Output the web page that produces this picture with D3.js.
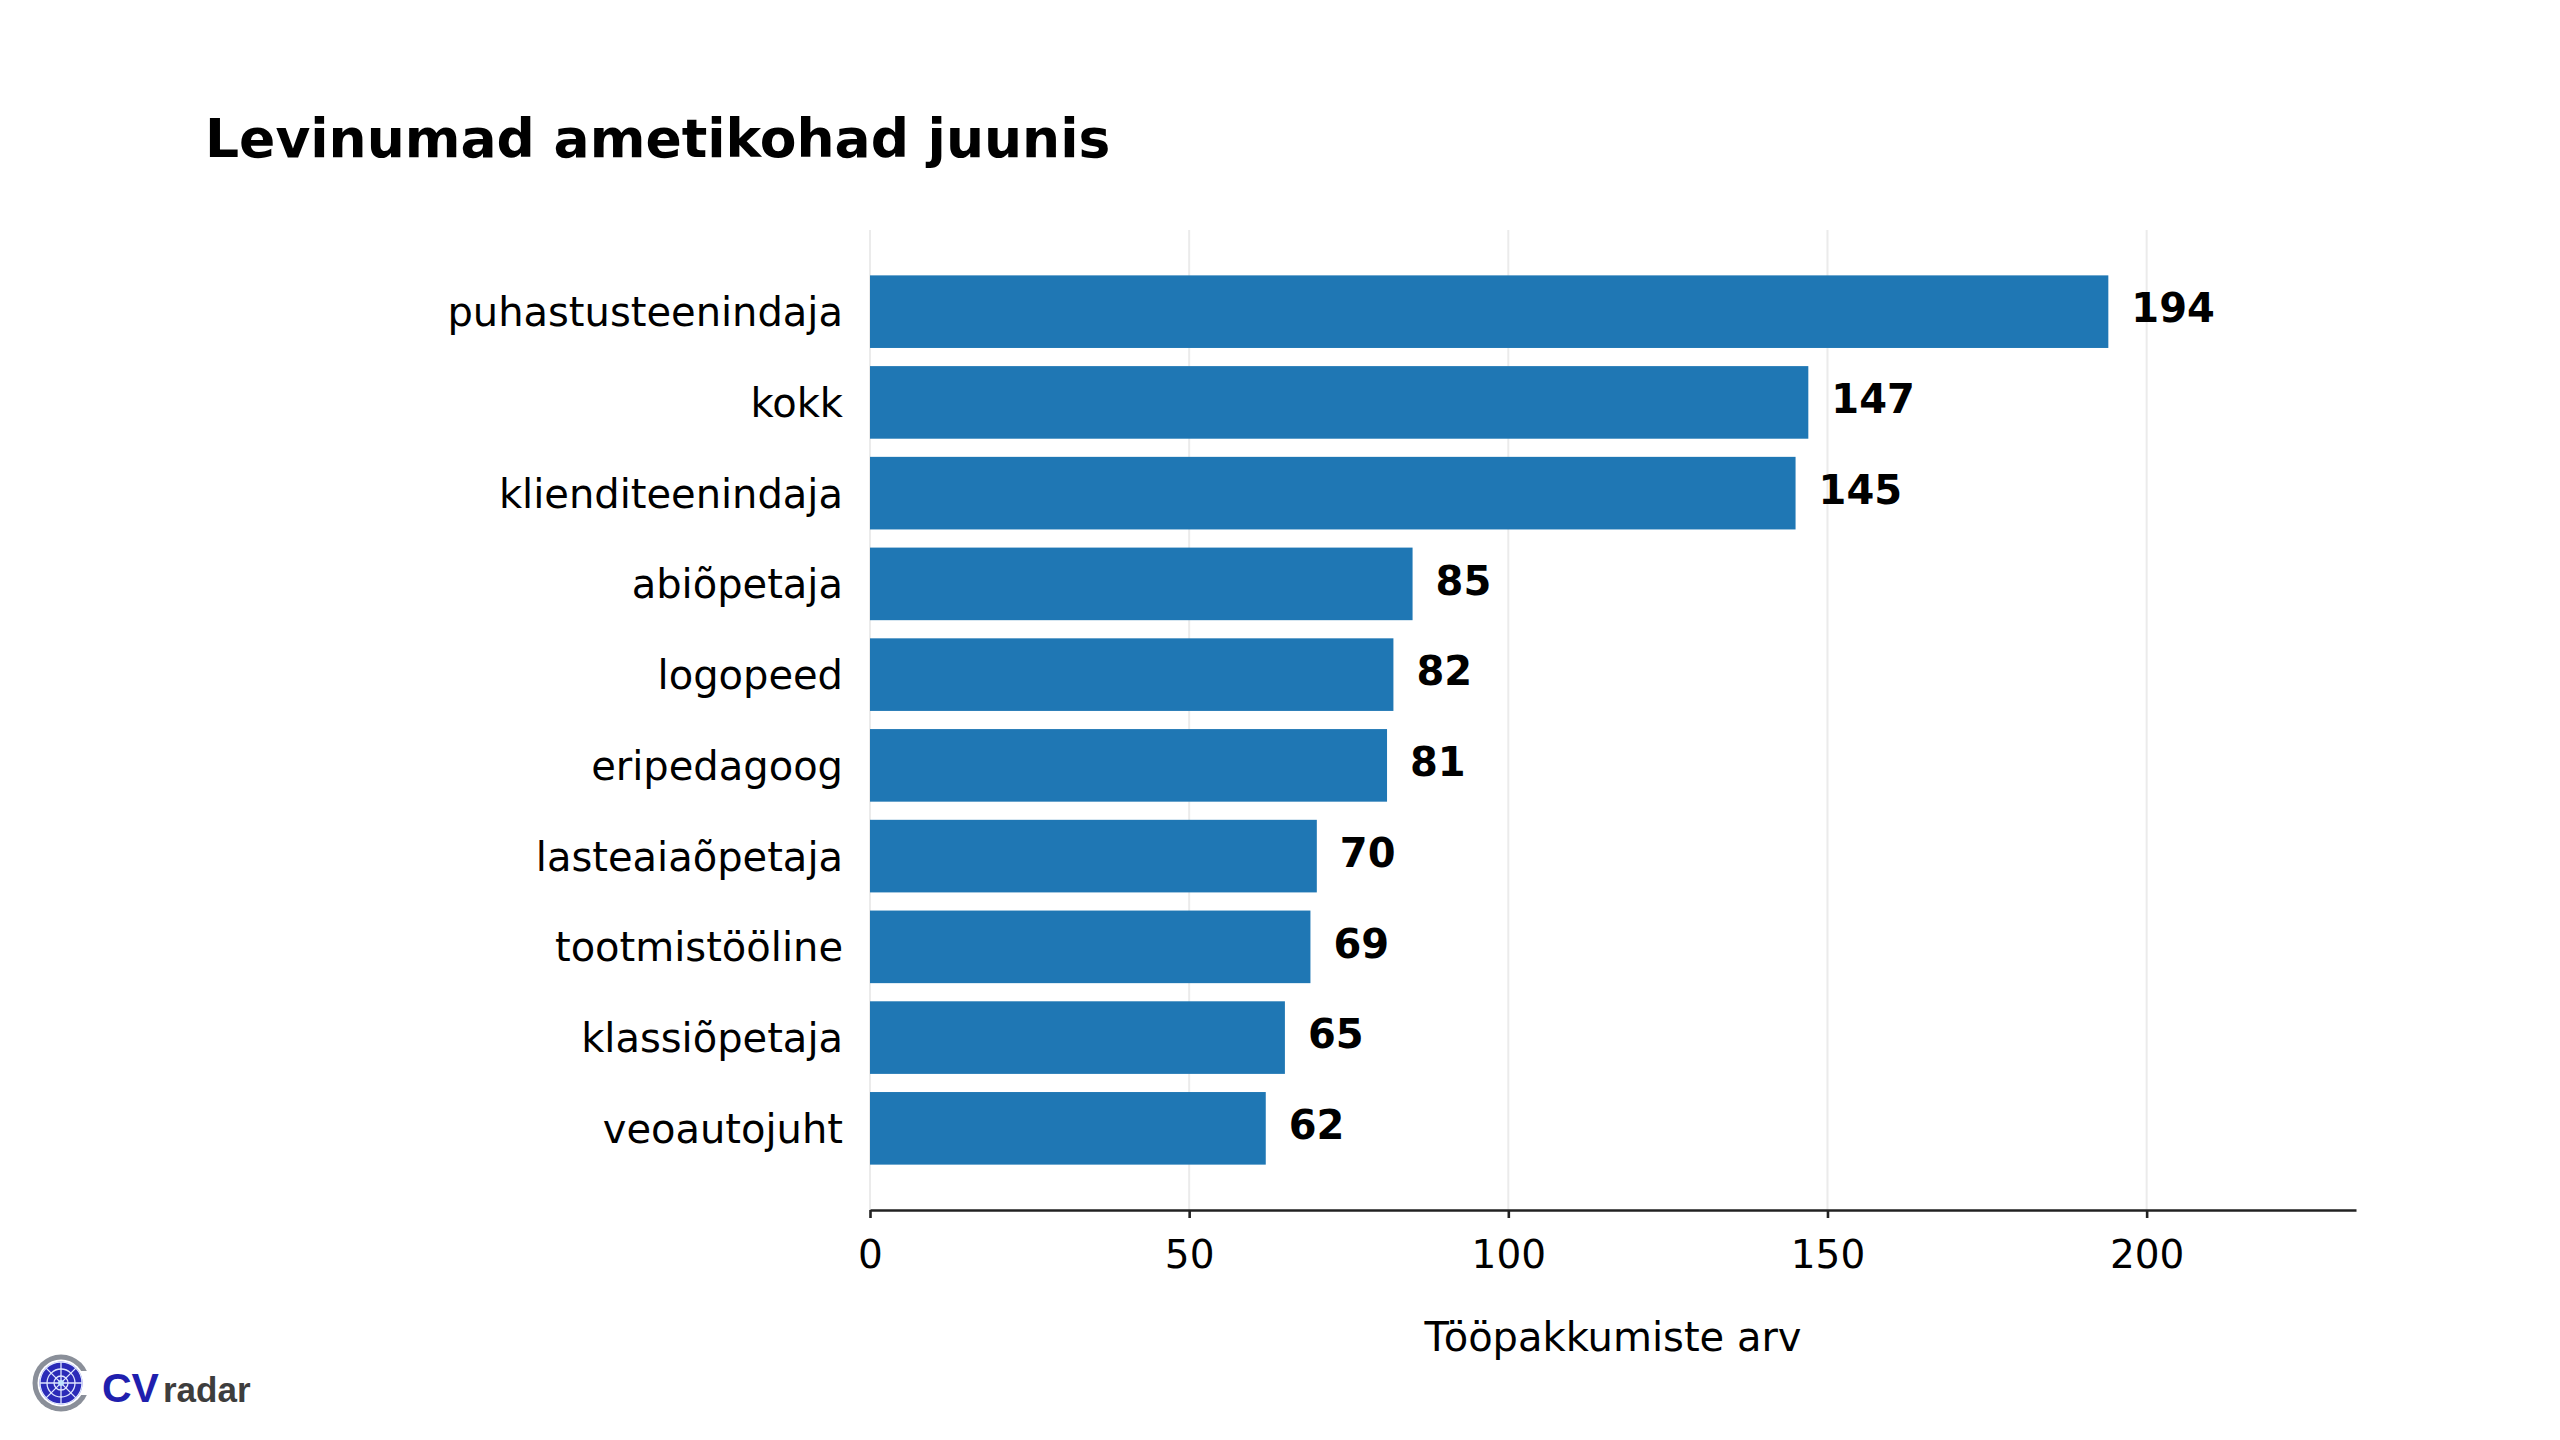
<!DOCTYPE html>
<html>
<head>
<meta charset="utf-8">
<script src="https://cdn.jsdelivr.net/npm/d3@7"></script>
<style>
  html, body { margin: 0; padding: 0; background: #ffffff; }
  svg { display: block; }
</style>
</head>
<body>
<div id="chart"></div>
<script>
//
// Chart data
//
const categories = ['puhastusteenindaja', 'kokk', 'klienditeenindaja', 'abiõpetaja', 'logopeed',
  'eripedagoog', 'lasteaiaõpetaja', 'tootmistööline', 'klassiõpetaja', 'veoautojuht']
const values = [194, 147, 145, 85, 82, 81, 70, 69, 65, 62]
const xTicks = [0, 50, 100, 150, 200]
const titleText = 'Levinumad ametikohad juunis'
const xLabelText = 'Tööpakkumiste arv'

const width = 2560
const height = 1440
const plot = { left: 870, right: 2356, top: 230, bottom: 1210 }
const fontFamily = '"DejaVu Sans", Verdana, sans-serif'
const barColour = '#1f77b4'

const svg = d3.select('#chart').append('svg')
  .attr('width', width)
  .attr('height', height)
  .attr('viewBox', `0 0 ${width} ${height}`)

svg.append('rect').attr('width', width).attr('height', height).attr('fill', '#ffffff')

//
// Scales - x domain padded by 20% over the largest value
//
const x = d3.scaleLinear()
  .domain([0, d3.max(values) * 1.2])
  .range([plot.left, plot.right])

const y = d3.scaleBand()
  .domain(categories)
  .range([plot.top, plot.bottom])
  .paddingInner(0.2)
  .paddingOuter(0.5)

// vertical grid lines
svg.append('g')
  .selectAll('line')
  .data(xTicks)
  .enter()
  .append('line')
    .attr('x1', d => x(d))
    .attr('x2', d => x(d))
    .attr('y1', plot.top)
    .attr('y2', plot.bottom)
    .attr('stroke', '#ebebeb')
    .attr('stroke-width', 2)

// bars
svg.append('g')
  .selectAll('rect')
  .data(categories)
  .enter()
  .append('rect')
    .attr('x', x(0))
    .attr('y', d => y(d))
    .attr('width', (d, i) => x(values[i]) - x(0))
    .attr('height', y.bandwidth())
    .attr('fill', barColour)

// value labels
svg.append('g')
  .selectAll('text')
  .data(categories)
  .enter()
  .append('text')
    .attr('x', (d, i) => x(values[i]) + 23)
    .attr('y', d => y(d) + y.bandwidth() / 2)
    .attr('dy', '0.27em')
    .attr('font-family', fontFamily)
    .attr('font-weight', 'bold')
    .attr('font-size', 40)
    .attr('fill', '#000')
    .text((d, i) => values[i])

// x axis
const xAxis = svg.append('g')
  .attr('transform', `translate(0,${plot.bottom})`)
  .call(d3.axisBottom(x).tickValues(xTicks).tickSize(8).tickPadding(22).tickSizeOuter(0))
xAxis.select('.domain').attr('stroke', '#222').attr('stroke-width', 2.6)
xAxis.selectAll('.tick line').attr('stroke', '#222').attr('stroke-width', 2.6)
xAxis.selectAll('.tick text')
  .attr('font-family', fontFamily)
  .attr('font-size', 39)
  .attr('fill', '#000')

// y axis (labels only)
const yAxis = svg.append('g')
  .attr('transform', `translate(${plot.left},0)`)
  .call(d3.axisLeft(y).tickSize(0).tickPadding(27))
yAxis.select('.domain').remove()
yAxis.selectAll('.tick text')
  .attr('dy', '0.36em')
  .attr('font-family', fontFamily)
  .attr('font-size', 40)
  .attr('fill', '#000')

// axis title
svg.append('text')
  .attr('x', (plot.left + plot.right) / 2)
  .attr('y', 1351)
  .attr('text-anchor', 'middle')
  .attr('font-family', fontFamily)
  .attr('font-size', 40)
  .attr('fill', '#000')
  .text(xLabelText)

// chart title
svg.append('text')
  .attr('x', 205)
  .attr('y', 157)
  .attr('font-family', fontFamily)
  .attr('font-weight', 'bold')
  .attr('font-size', 53.5)
  .attr('fill', '#000')
  .text(titleText)

//
// CVradar logo
//
const logo = svg.append('g').attr('transform', 'translate(61,1383)')
logo.append('circle').attr('r', 28.5).attr('fill', '#8a8f99')
logo.append('circle').attr('r', 23.5).attr('fill', '#ffffff')
logo.append('rect').attr('x', 8).attr('y', -12).attr('width', 24).attr('height', 24).attr('fill', '#ffffff')
logo.append('circle').attr('r', 21.5).attr('fill', '#2b2bb8')
const rings = [7, 14, 21]
logo.selectAll('.ring')
  .data(rings)
  .enter()
  .append('circle')
    .attr('r', d => d)
    .attr('fill', 'none')
    .attr('stroke', '#dfe6ff')
    .attr('stroke-width', 1.3)
const spokes = d3.range(0, 180, 45)
logo.selectAll('.spoke')
  .data(spokes)
  .enter()
  .append('line')
    .attr('x1', d => -21 * Math.cos(d * Math.PI / 180))
    .attr('y1', d => -21 * Math.sin(d * Math.PI / 180))
    .attr('x2', d => 21 * Math.cos(d * Math.PI / 180))
    .attr('y2', d => 21 * Math.sin(d * Math.PI / 180))
    .attr('stroke', '#dfe6ff')
    .attr('stroke-width', 1.3)
logo.append('circle').attr('r', 3).attr('fill', '#bfe3ff')

const logoText = svg.append('text')
  .attr('x', 102)
  .attr('y', 1402)
  .attr('font-family', '"Liberation Sans", Arial, sans-serif')
  .attr('font-weight', 'bold')
logoText.append('tspan').attr('font-size', 41).attr('fill', '#1f1fae').text('CV')
logoText.append('tspan').attr('font-size', 35).attr('fill', '#3d3d3d').attr('dx', 4).text('radar')
</script>
</body>
</html>
